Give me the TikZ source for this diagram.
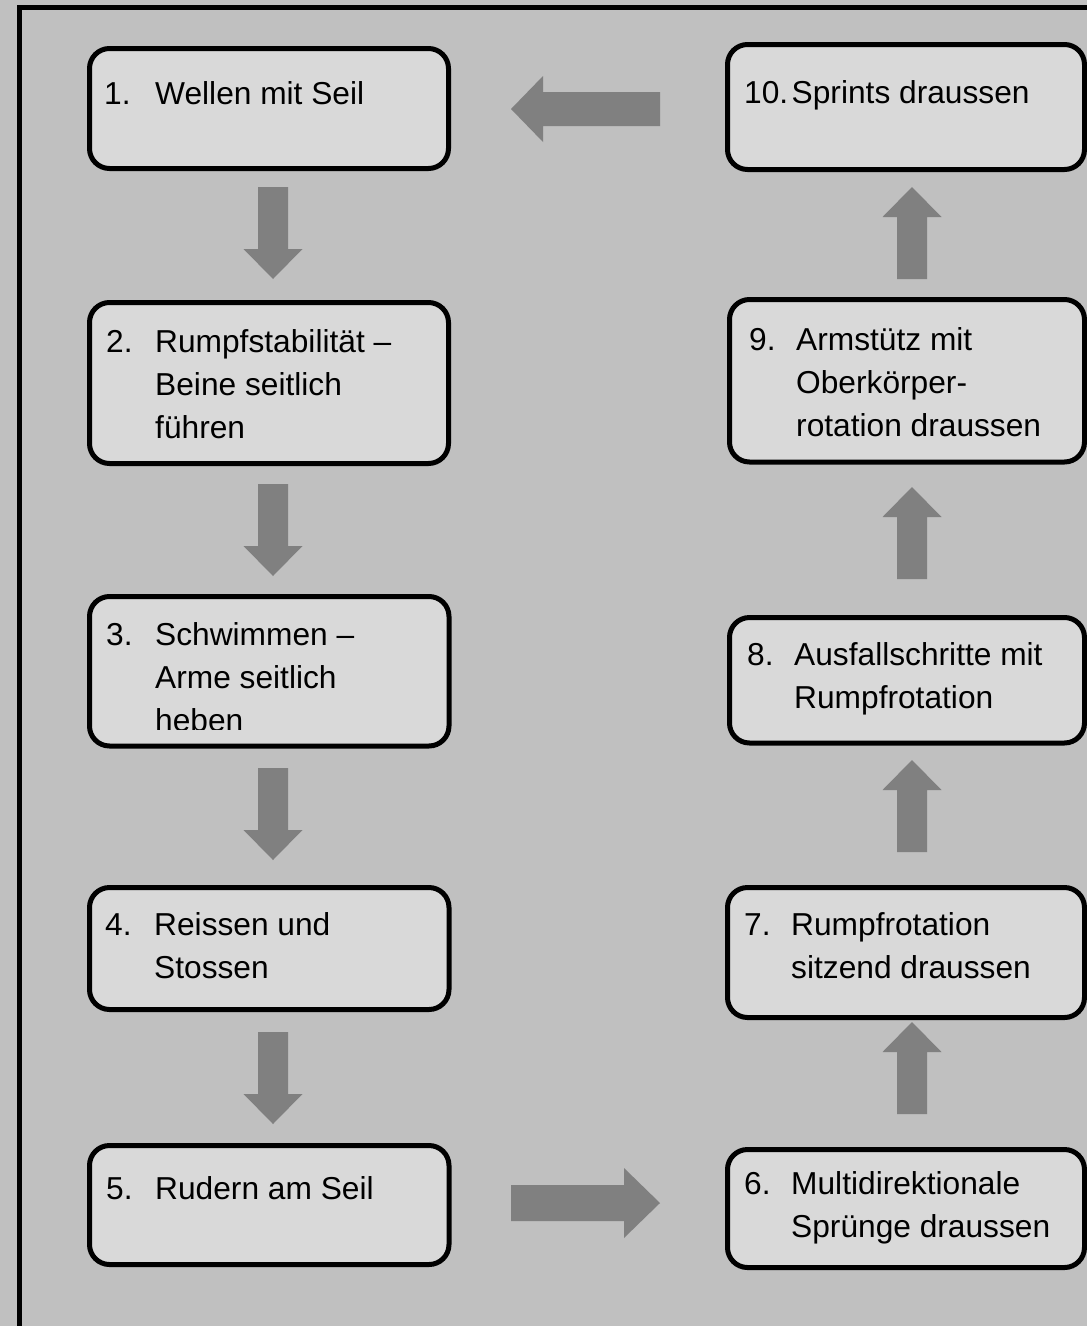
\documentclass[tikz,border=0pt]{standalone}
\usepackage{fontspec}
\setmainfont{Liberation Sans}
\usetikzlibrary{fit}
\definecolor{bg}{HTML}{C0C0C0}
\definecolor{boxfill}{HTML}{D9D9D9}
\definecolor{arrowgray}{HTML}{808080}
\tikzset{
  stepbox/.style={draw=black, line width=5pt, fill=boxfill, rounded corners=20pt, inner sep=0pt},
  num/.style={anchor=base west, inner sep=0pt, font=\fontsize{31.7}{43}\selectfont},
  txt/.style={anchor=base west, inner sep=0pt, align=left, font=\fontsize{31.7}{43}\selectfont},
  blockarrow/.style={fill=arrowgray, draw=none},
  frameline/.style={draw=black, line width=5pt},
}
\newcommand\DownArr[2]{%
  \fill[blockarrow] ({#1-15},#2) -- ({#1+15},#2) -- ({#1+15},{#2+62}) -- ({#1+29.5},{#2+62}) -- (#1,{#2+92}) -- ({#1-29.5},{#2+62}) -- ({#1-15},{#2+62}) -- cycle;}
\newcommand\UpArr[2]{%
  \fill[blockarrow] (#1,#2) -- ({#1+29.5},{#2+30}) -- ({#1+15},{#2+30}) -- ({#1+15},{#2+92}) -- ({#1-15},{#2+92}) -- ({#1-15},{#2+30}) -- ({#1-29.5},{#2+30}) -- cycle;}
\begin{document}
\begin{tikzpicture}[x=1pt,y=-1pt]
\fill[bg] (0,0) rectangle (1087,1326);
\useasboundingbox (0,0) rectangle (1087,1326);
% outer frame (left and top visible)
\draw[frameline] (19,1335) -- (19,7.5) -- (1095,7.5);

% boxes
\node[stepbox, fit={(89.5,48.5) (448.5,168.5)}] (b1) {};
\node[stepbox, fit={(89.5,302.5) (448.5,463.5)}] (b2) {};
\node[stepbox, fit={(89.5,596.5) (449,746)}] (b3) {};
\node[stepbox, fit={(89.5,887.5) (449,1009.5)}] (b4) {};
\node[stepbox, fit={(89.5,1145.5) (449,1264.5)}] (b5) {};
\node[stepbox, fit={(727.5,1149.5) (1084.5,1267.5)}] (b6) {};
\node[stepbox, fit={(727.5,887.5) (1084.5,1017.5)}] (b7) {};
\node[stepbox, fit={(729.5,617.5) (1084.5,743)}] (b8) {};
\node[stepbox, fit={(729.5,299.5) (1084.5,462)}] (b9) {};
\node[stepbox, fit={(727.5,44.5) (1084.5,169.5)}] (b10) {};

% texts (multi-line nodes: base = last line)
\node[num] (n1) at (104,104) {1.};
\node[txt] (t1) at (155,104) {Wellen mit Seil};
\node[num] (n2) at (106,352) {2.};
\node[txt] (t2) at (155,438) {Rumpfstabilität –\\Beine seitlich\\führen};
\node[num] (n3) at (106,645) {3.};
\begin{scope}
\clip (92,598) rectangle (447,729);
\node[txt] (t3) at (155,731) {Schwimmen –\\Arme seitlich\\heben};
\end{scope}
\node[num] (n4) at (105,935) {4.};
\node[txt] (t4) at (154,978) {Reissen und\\Stossen};
\node[num] (n5) at (106,1199) {5.};
\node[txt] (t5) at (155,1199) {Rudern am Seil};
\node[num] (n6) at (744,1194) {6.};
\node[txt] (t6) at (791,1237) {Multidirektionale\\Sprünge draussen};
\node[num] (n7) at (744,935) {7.};
\node[txt] (t7) at (791,978) {Rumpfrotation\\sitzend draussen};
\node[num] (n8) at (747,665) {8.};
\node[txt] (t8) at (794,708) {Ausfallschritte mit\\Rumpfrotation};
\node[num] (n9) at (749,350) {9.};
\node[txt] (t9) at (796,436) {Armstütz mit\\Oberkörper-\\rotation draussen};
\node[num] (n10) at (744,103) {10.};
\node[txt] (t10) at (791.5,103) {Sprints draussen};

% arrows
\DownArr{273}{187}
\DownArr{273}{484}
\DownArr{273}{768}
\DownArr{273}{1032}
\UpArr{912}{187}
\UpArr{912}{487}
\UpArr{912}{760}
\UpArr{912}{1022}
% left arrow (10 -> 1)
\fill[blockarrow] (660,92) -- (543,92) -- (543,76) -- (511,109) -- (543,142) -- (543,126) -- (660,126) -- cycle;
% right arrow (5 -> 6)
\fill[blockarrow] (511,1185) -- (624,1185) -- (624,1168) -- (660,1203) -- (624,1238) -- (624,1221) -- (511,1221) -- cycle;
\end{tikzpicture}
\end{document}
